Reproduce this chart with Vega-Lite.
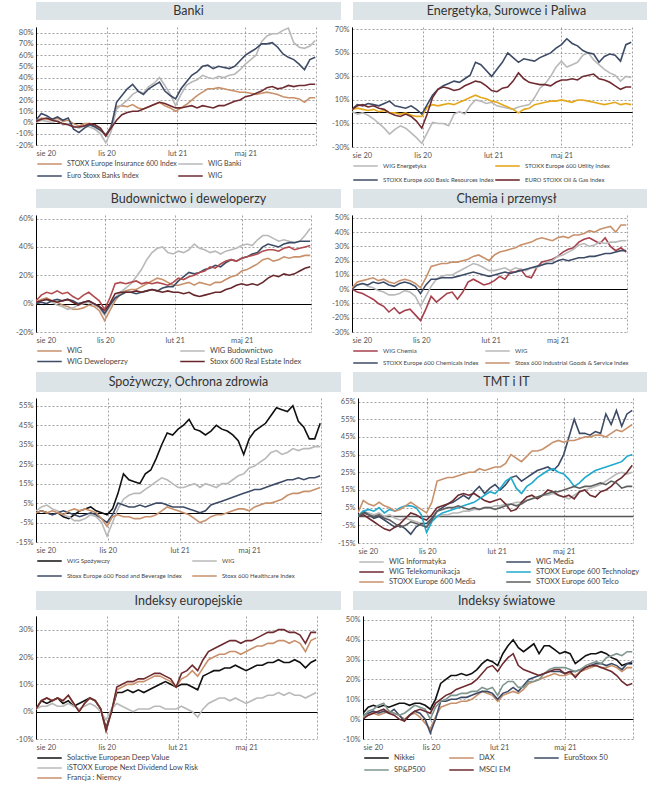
{
"$schema":"https://vega.github.io/schema/vega-lite/v6.json",
"padding":{"left":8,"top":2,"right":0,"bottom":0},
"background":"white",
"columns":1,
"align":"none",
"spacing":5,
"resolve":{"scale":{"color":"independent"},"legend":{"color":"independent"}},
"config":{"view":{"stroke":null},"font":"Lato",
"axis":{"grid":true,"gridDash":[2,2],"gridColor":"#8a8a8a","gridWidth":0.8,"ticks":false,"labelFontSize":7.5,"labelColor":"#555","labelFont":"Lato","labelOverlap":false},
"axisX":{"domain":false,"labelPadding":4},
"axisY":{"domain":true,"domainColor":"#000","domainWidth":1,"labelPadding":3,"labelOverlap":false},
"legend":{"orient":"bottom","symbolType":"stroke","symbolStrokeWidth":2.2,"symbolSize":600,"clipHeight":8,"labelFontSize":7.5,"labelColor":"#444","labelFont":"Lato","rowPadding":3,"columnPadding":10,"offset":3,"padding":0,"labelLimit":300},
"line":{"strokeWidth":1.6}},
"datasets":{"all":[
{"d":"2020-08-01","ins":1,"wb":0,"esb":2,"wig":1,"we":0,"ut":2,"br":2,"og":2,"wbud":0,"wdew":0,"re":1,"x3":2,"wch":0,"chem":0,"ind":1,"wsp":0,"fb":0,"hc":0,"wi":0,"wm":0,"wt":0,"tech":0,"med":2,"tel":0,"sol":1,"low":1,"fn":1,"x7":1,"nk":3,"dax":1,"es50":2,"sp":1,"em":0},
{"d":"2020-08-08","ins":4,"wb":2,"esb":8,"wig":3,"we":-2,"ut":3,"br":6,"og":5,"wbud":2,"wdew":1,"re":2,"x3":6,"wch":-2,"chem":3,"ind":5,"wsp":1,"fb":1,"hc":1,"wi":3,"wm":3,"wt":1,"tech":3,"med":9,"tel":2,"sol":4,"low":2,"fn":4,"x7":4,"nk":6,"dax":2,"es50":3,"sp":4,"em":2},
{"d":"2020-08-15","ins":3,"wb":1,"esb":6,"wig":4,"we":-1,"ut":2,"br":5,"og":6,"wbud":3,"wdew":0,"re":3,"x3":8,"wch":-3,"chem":4,"ind":6,"wsp":0,"fb":0,"hc":0,"wi":2,"wm":1,"wt":-1,"tech":4,"med":7,"tel":1,"sol":3,"low":2,"fn":5,"x7":5,"nk":7,"dax":3,"es50":4,"sp":5,"em":3},
{"d":"2020-08-22","ins":2,"wb":0,"esb":3,"wig":2,"we":-3,"ut":1,"br":7,"og":4,"wbud":1,"wdew":2,"re":2,"x3":7,"wch":-5,"chem":3,"ind":7,"wsp":-1,"fb":-1,"hc":1,"wi":1,"wm":-1,"wt":-3,"tech":3,"med":6,"tel":0,"sol":4,"low":3,"fn":4,"x7":4,"nk":6,"dax":2,"es50":3,"sp":7,"em":4},
{"d":"2020-08-29","ins":4,"wb":2,"esb":5,"wig":1,"we":-6,"ut":2,"br":6,"og":5,"wbud":-1,"wdew":3,"re":1,"x3":9,"wch":-7,"chem":5,"ind":8,"wsp":0,"fb":0,"hc":0,"wi":2,"wm":0,"wt":-5,"tech":5,"med":8,"tel":1,"sol":5,"low":2,"fn":5,"x7":5,"nk":7,"dax":3,"es50":4,"sp":8,"em":5},
{"d":"2020-09-05","ins":1,"wb":-2,"esb":2,"wig":-1,"we":-10,"ut":0,"br":5,"og":3,"wbud":-2,"wdew":2,"re":2,"x3":7,"wch":-10,"chem":4,"ind":6,"wsp":-2,"fb":1,"hc":-1,"wi":0,"wm":-2,"wt":-7,"tech":2,"med":6,"tel":-1,"sol":3,"low":2,"fn":4,"x7":4,"nk":6,"dax":4,"es50":3,"sp":4,"em":3},
{"d":"2020-09-12","ins":2,"wb":-1,"esb":4,"wig":-2,"we":-14,"ut":1,"br":7,"og":2,"wbud":-4,"wdew":3,"re":3,"x3":8,"wch":-12,"chem":5,"ind":7,"wsp":-3,"fb":0,"hc":1,"wi":1,"wm":-4,"wt":-8,"tech":4,"med":5,"tel":-2,"sol":4,"low":3,"fn":6,"x7":6,"nk":7,"dax":3,"es50":5,"sp":3,"em":2},
{"d":"2020-09-19","ins":-1,"wb":-3,"esb":-6,"wig":-4,"we":-19,"ut":-1,"br":9,"og":-1,"wbud":-3,"wdew":2,"re":1,"x3":5,"wch":-16,"chem":3,"ind":5,"wsp":-1,"fb":-1,"hc":2,"wi":-1,"wm":-6,"wt":-6,"tech":3,"med":3,"tel":-4,"sol":2,"low":2,"fn":3,"x7":3,"nk":8,"dax":2,"es50":2,"sp":2,"em":0},
{"d":"2020-09-26","ins":-3,"wb":-5,"esb":-9,"wig":-4,"we":-15,"ut":-1,"br":5,"og":-3,"wbud":-1,"wdew":0,"re":-1,"x3":3,"wch":-13,"chem":2,"ind":4,"wsp":1,"fb":-2,"hc":1,"wi":-2,"wm":-5,"wt":-4,"tech":5,"med":4,"tel":-6,"sol":3,"low":1,"fn":0,"x7":0,"nk":8,"dax":0,"es50":-1,"sp":3,"em":-1},
{"d":"2020-10-03","ins":-1,"wb":-3,"esb":-5,"wig":-3,"we":-12,"ut":-2,"br":4,"og":-4,"wbud":0,"wdew":1,"re":1,"x3":6,"wch":-17,"chem":4,"ind":6,"wsp":2,"fb":-1,"hc":2,"wi":-1,"wm":-7,"wt":-1,"tech":6,"med":6,"tel":-5,"sol":4,"low":2,"fn":3,"x7":3,"nk":7,"dax":2,"es50":2,"sp":5,"em":2},
{"d":"2020-10-10","ins":-1,"wb":-4,"esb":-2,"wig":-1,"we":-14,"ut":-1,"br":3,"og":-2,"wbud":1,"wdew":2,"re":2,"x3":8,"wch":-15,"chem":5,"ind":7,"wsp":3,"fb":0,"hc":1,"wi":-2,"wm":-10,"wt":2,"tech":6,"med":8,"tel":-3,"sol":5,"low":3,"fn":5,"x7":5,"nk":8,"dax":3,"es50":4,"sp":7,"em":4},
{"d":"2020-10-17","ins":-3,"wb":-6,"esb":-4,"wig":-2,"we":-18,"ut":-3,"br":5,"og":-4,"wbud":-1,"wdew":0,"re":0,"x3":5,"wch":-14,"chem":4,"ind":6,"wsp":1,"fb":-1,"hc":0,"wi":-3,"wm":-6,"wt":1,"tech":5,"med":6,"tel":-4,"sol":4,"low":2,"fn":4,"x7":4,"nk":8,"dax":1,"es50":3,"sp":6,"em":5},
{"d":"2020-10-24","ins":-6,"wb":-10,"esb":-7,"wig":-5,"we":-22,"ut":-4,"br":2,"og":-8,"wbud":-3,"wdew":-2,"re":-2,"x3":2,"wch":-18,"chem":2,"ind":4,"wsp":0,"fb":-3,"hc":-3,"wi":-4,"wm":-4,"wt":-1,"tech":1,"med":4,"tel":-5,"sol":1,"low":0,"fn":1,"x7":1,"nk":7,"dax":-2,"es50":0,"sp":5,"em":4},
{"d":"2020-10-31","ins":-12,"wb":-18,"esb":-11,"wig":-12,"we":-27,"ut":-4,"br":-2,"og":-14,"wbud":-8,"wdew":-7,"re":-5,"x3":-4,"wch":-22,"chem":-3,"ind":1,"wsp":-1,"fb":-5,"hc":-7,"wi":-6,"wm":-4,"wt":-2,"tech":-9,"med":2,"tel":-6,"sol":-6,"low":-3,"fn":-7,"x7":-7,"nk":5,"dax":-5,"es50":-7,"sp":0,"em":3},
{"d":"2020-11-07","ins":-3,"wb":-8,"esb":-4,"wig":-5,"we":-18,"ut":4,"br":6,"og":-2,"wbud":-2,"wdew":-1,"re":0,"x3":4,"wch":-14,"chem":3,"ind":8,"wsp":2,"fb":-1,"hc":-2,"wi":-2,"wm":-1,"wt":1,"tech":-3,"med":8,"tel":-2,"sol":0,"low":1,"fn":0,"x7":0,"nk":10,"dax":1,"es50":0,"sp":6,"em":8},
{"d":"2020-11-14","ins":14,"wb":12,"esb":18,"wig":2,"we":-9,"ut":6,"br":14,"og":12,"wbud":4,"wdew":4,"re":7,"x3":14,"wch":-5,"chem":7,"ind":16,"wsp":10,"fb":5,"hc":-1,"wi":0,"wm":3,"wt":5,"tech":0,"med":20,"tel":3,"sol":7,"low":3,"fn":8,"x7":9,"nk":18,"dax":6,"es50":9,"sp":9,"em":10},
{"d":"2020-11-21","ins":15,"wb":16,"esb":24,"wig":7,"we":-10,"ut":5,"br":19,"og":19,"wbud":8,"wdew":6,"re":8,"x3":15,"wch":-9,"chem":7,"ind":17,"wsp":20,"fb":4,"hc":-2,"wi":1,"wm":5,"wt":6,"tech":2,"med":21,"tel":4,"sol":7,"low":2,"fn":9,"x7":10,"nk":20,"dax":7,"es50":9,"sp":10,"em":12},
{"d":"2020-11-28","ins":14,"wb":20,"esb":30,"wig":9,"we":-10,"ut":6,"br":22,"og":21,"wbud":11,"wdew":8,"re":8,"x3":14,"wch":-6,"chem":8,"ind":18,"wsp":17,"fb":3,"hc":-2,"wi":1,"wm":7,"wt":7,"tech":3,"med":22,"tel":5,"sol":8,"low":1,"fn":10,"x7":11,"nk":22,"dax":8,"es50":10,"sp":12,"em":13},
{"d":"2020-12-05","ins":16,"wb":25,"esb":34,"wig":10,"we":-12,"ut":7,"br":24,"og":20,"wbud":14,"wdew":8,"re":8,"x3":15,"wch":-3,"chem":8,"ind":18,"wsp":16,"fb":3,"hc":-3,"wi":2,"wm":8,"wt":9,"tech":4,"med":22,"tel":5,"sol":7,"low":0,"fn":10,"x7":11,"nk":22,"dax":8,"es50":10,"sp":12,"em":15},
{"d":"2020-12-12","ins":13,"wb":28,"esb":28,"wig":10,"we":-2,"ut":6,"br":26,"og":18,"wbud":19,"wdew":7,"re":9,"x3":16,"wch":-2,"chem":8,"ind":19,"wsp":15,"fb":4,"hc":-3,"wi":2,"wm":10,"wt":12,"tech":5,"med":23,"tel":6,"sol":8,"low":1,"fn":11,"x7":12,"nk":23,"dax":9,"es50":11,"sp":13,"em":16},
{"d":"2020-12-19","ins":12,"wb":26,"esb":25,"wig":12,"we":0,"ut":8,"br":25,"og":19,"wbud":24,"wdew":8,"re":8,"x3":14,"wch":-7,"chem":9,"ind":19,"wsp":20,"fb":3,"hc":-2,"wi":3,"wm":12,"wt":13,"tech":6,"med":24,"tel":5,"sol":7,"low":1,"fn":11,"x7":12,"nk":22,"dax":9,"es50":11,"sp":13,"em":17},
{"d":"2020-12-26","ins":14,"wb":32,"esb":30,"wig":14,"we":-2,"ut":10,"br":28,"og":22,"wbud":31,"wdew":9,"re":9,"x3":15,"wch":-2,"chem":10,"ind":20,"wsp":22,"fb":4,"hc":-2,"wi":3,"wm":10,"wt":12,"tech":7,"med":25,"tel":4,"sol":8,"low":1,"fn":12,"x7":13,"nk":23,"dax":10,"es50":12,"sp":14,"em":18},
{"d":"2021-01-02","ins":16,"wb":35,"esb":33,"wig":16,"we":5,"ut":12,"br":31,"og":24,"wbud":36,"wdew":10,"re":10,"x3":14,"wch":5,"chem":11,"ind":21,"wsp":28,"fb":5,"hc":-1,"wi":4,"wm":14,"wt":13,"tech":8,"med":25,"tel":5,"sol":9,"low":2,"fn":13,"x7":14,"nk":25,"dax":12,"es50":13,"sp":14,"em":20},
{"d":"2021-01-09","ins":18,"wb":40,"esb":36,"wig":18,"we":10,"ut":14,"br":42,"og":26,"wbud":39,"wdew":9,"re":9,"x3":15,"wch":7,"chem":12,"ind":23,"wsp":35,"fb":5,"hc":1,"wi":4,"wm":17,"wt":11,"tech":10,"med":27,"tel":4,"sol":10,"low":2,"fn":13,"x7":14,"nk":28,"dax":14,"es50":14,"sp":16,"em":23},
{"d":"2021-01-16","ins":15,"wb":33,"esb":28,"wig":17,"we":9,"ut":12,"br":40,"og":25,"wbud":40,"wdew":11,"re":8,"x3":14,"wch":5,"chem":11,"ind":24,"wsp":41,"fb":4,"hc":3,"wi":5,"wm":13,"wt":9,"tech":12,"med":26,"tel":5,"sol":11,"low":1,"fn":12,"x7":13,"nk":30,"dax":13,"es50":14,"sp":15,"em":26},
{"d":"2021-01-23","ins":13,"wb":25,"esb":24,"wig":15,"we":7,"ut":11,"br":35,"og":22,"wbud":36,"wdew":12,"re":9,"x3":13,"wch":3,"chem":10,"ind":22,"wsp":40,"fb":3,"hc":2,"wi":5,"wm":16,"wt":8,"tech":14,"med":27,"tel":5,"sol":10,"low":1,"fn":11,"x7":12,"nk":29,"dax":12,"es50":13,"sp":16,"em":27},
{"d":"2021-01-30","ins":10,"wb":15,"esb":21,"wig":13,"we":8,"ut":9,"br":30,"og":18,"wbud":35,"wdew":12,"re":8,"x3":15,"wch":4,"chem":9,"ind":20,"wsp":43,"fb":3,"hc":1,"wi":6,"wm":18,"wt":9,"tech":13,"med":28,"tel":4,"sol":9,"low":1,"fn":9,"x7":9,"nk":27,"dax":9,"es50":10,"sp":12,"em":24},
{"d":"2021-02-06","ins":13,"wb":25,"esb":30,"wig":13,"we":5,"ut":8,"br":36,"og":17,"wbud":37,"wdew":16,"re":8,"x3":18,"wch":6,"chem":10,"ind":24,"wsp":45,"fb":3,"hc":0,"wi":6,"wm":15,"wt":10,"tech":16,"med":28,"tel":5,"sol":10,"low":2,"fn":12,"x7":14,"nk":33,"dax":12,"es50":13,"sp":17,"em":28},
{"d":"2021-02-13","ins":16,"wb":33,"esb":36,"wig":14,"we":4,"ut":6,"br":42,"og":20,"wbud":36,"wdew":19,"re":7,"x3":17,"wch":9,"chem":11,"ind":26,"wsp":48,"fb":2,"hc":-1,"wi":7,"wm":18,"wt":7,"tech":20,"med":30,"tel":6,"sol":10,"low":1,"fn":13,"x7":15,"nk":37,"dax":13,"es50":14,"sp":19,"em":31},
{"d":"2021-02-20","ins":20,"wb":36,"esb":42,"wig":15,"we":3,"ut":4,"br":50,"og":21,"wbud":38,"wdew":22,"re":8,"x3":19,"wch":7,"chem":12,"ind":27,"wsp":43,"fb":1,"hc":-3,"wi":7,"wm":22,"wt":3,"tech":22,"med":35,"tel":7,"sol":9,"low":0,"fn":15,"x7":17,"nk":40,"dax":14,"es50":16,"sp":19,"em":33},
{"d":"2021-02-27","ins":24,"wb":38,"esb":45,"wig":13,"we":2,"ut":2,"br":46,"og":26,"wbud":42,"wdew":21,"re":6,"x3":20,"wch":12,"chem":11,"ind":28,"wsp":42,"fb":0,"hc":-5,"wi":8,"wm":23,"wt":4,"tech":16,"med":33,"tel":6,"sol":8,"low":-2,"fn":13,"x7":15,"nk":36,"dax":13,"es50":14,"sp":16,"em":27},
{"d":"2021-03-06","ins":27,"wb":42,"esb":50,"wig":15,"we":4,"ut":-1,"br":42,"og":33,"wbud":39,"wdew":22,"re":5,"x3":22,"wch":12,"chem":12,"ind":29,"wsp":40,"fb":1,"hc":-4,"wi":8,"wm":20,"wt":8,"tech":13,"med":31,"tel":7,"sol":13,"low":1,"fn":16,"x7":19,"nk":34,"dax":15,"es50":17,"sp":16,"em":25},
{"d":"2021-03-13","ins":30,"wb":40,"esb":51,"wig":14,"we":5,"ut":2,"br":45,"og":28,"wbud":38,"wdew":24,"re":6,"x3":23,"wch":14,"chem":13,"ind":31,"wsp":42,"fb":4,"hc":-2,"wi":9,"wm":22,"wt":11,"tech":17,"med":34,"tel":9,"sol":14,"low":3,"fn":19,"x7":22,"nk":36,"dax":18,"es50":20,"sp":19,"em":24},
{"d":"2021-03-20","ins":30,"wb":39,"esb":48,"wig":13,"we":6,"ut":3,"br":44,"og":25,"wbud":36,"wdew":25,"re":7,"x3":26,"wch":9,"chem":14,"ind":32,"wsp":45,"fb":5,"hc":-1,"wi":10,"wm":24,"wt":12,"tech":19,"med":37,"tel":10,"sol":15,"low":4,"fn":20,"x7":23,"nk":38,"dax":19,"es50":21,"sp":19,"em":23},
{"d":"2021-03-27","ins":31,"wb":41,"esb":50,"wig":15,"we":12,"ut":6,"br":43,"og":24,"wbud":37,"wdew":27,"re":8,"x3":25,"wch":8,"chem":15,"ind":33,"wsp":43,"fb":6,"hc":-1,"wi":11,"wm":26,"wt":10,"tech":22,"med":37,"tel":11,"sol":15,"low":5,"fn":21,"x7":24,"nk":33,"dax":20,"es50":22,"sp":20,"em":22},
{"d":"2021-04-03","ins":30,"wb":40,"esb":49,"wig":15,"we":20,"ut":7,"br":46,"og":23,"wbud":35,"wdew":26,"re":8,"x3":28,"wch":15,"chem":16,"ind":35,"wsp":42,"fb":7,"hc":0,"wi":12,"wm":27,"wt":12,"tech":24,"med":38,"tel":12,"sol":16,"low":5,"fn":21,"x7":25,"nk":37,"dax":21,"es50":23,"sp":23,"em":23},
{"d":"2021-04-10","ins":29,"wb":42,"esb":48,"wig":17,"we":24,"ut":8,"br":48,"og":23,"wbud":37,"wdew":29,"re":10,"x3":30,"wch":19,"chem":17,"ind":36,"wsp":40,"fb":8,"hc":1,"wi":12,"wm":28,"wt":15,"tech":26,"med":40,"tel":13,"sol":16,"low":4,"fn":22,"x7":26,"nk":37,"dax":22,"es50":24,"sp":25,"em":24},
{"d":"2021-04-17","ins":28,"wb":43,"esb":50,"wig":19,"we":30,"ut":9,"br":50,"og":22,"wbud":38,"wdew":31,"re":11,"x3":31,"wch":20,"chem":18,"ind":35,"wsp":37,"fb":9,"hc":2,"wi":13,"wm":26,"wt":14,"tech":27,"med":42,"tel":14,"sol":17,"low":5,"fn":22,"x7":26,"nk":35,"dax":23,"es50":24,"sp":26,"em":25},
{"d":"2021-04-24","ins":27,"wb":47,"esb":55,"wig":20,"we":38,"ut":9,"br":54,"og":25,"wbud":39,"wdew":30,"re":13,"x3":30,"wch":21,"chem":18,"ind":34,"wsp":30,"fb":10,"hc":2,"wi":12,"wm":29,"wt":12,"tech":25,"med":43,"tel":14,"sol":16,"low":4,"fn":21,"x7":25,"nk":33,"dax":22,"es50":24,"sp":26,"em":25},
{"d":"2021-05-01","ins":27,"wb":52,"esb":60,"wig":23,"we":43,"ut":10,"br":57,"og":27,"wbud":41,"wdew":32,"re":14,"x3":32,"wch":23,"chem":20,"ind":36,"wsp":38,"fb":11,"hc":1,"wi":11,"wm":35,"wt":11,"tech":24,"med":42,"tel":15,"sol":15,"low":3,"fn":22,"x7":26,"nk":34,"dax":22,"es50":23,"sp":26,"em":23},
{"d":"2021-05-08","ins":26,"wb":56,"esb":63,"wig":24,"we":38,"ut":9,"br":62,"og":27,"wbud":42,"wdew":33,"re":13,"x3":33,"wch":26,"chem":21,"ind":37,"wsp":42,"fb":12,"hc":3,"wi":10,"wm":45,"wt":12,"tech":21,"med":43,"tel":16,"sol":16,"low":4,"fn":23,"x7":26,"nk":33,"dax":23,"es50":24,"sp":25,"em":24},
{"d":"2021-05-15","ins":25,"wb":60,"esb":66,"wig":26,"we":40,"ut":8,"br":58,"og":28,"wbud":41,"wdew":35,"re":14,"x3":34,"wch":28,"chem":20,"ind":36,"wsp":44,"fb":12,"hc":4,"wi":12,"wm":55,"wt":10,"tech":17,"med":43,"tel":17,"sol":17,"low":5,"fn":24,"x7":27,"nk":28,"dax":22,"es50":24,"sp":24,"em":21},
{"d":"2021-05-22","ins":26,"wb":72,"esb":70,"wig":28,"we":42,"ut":10,"br":56,"og":27,"wbud":45,"wdew":36,"re":13,"x3":35,"wch":29,"chem":21,"ind":38,"wsp":46,"fb":13,"hc":5,"wi":14,"wm":47,"wt":14,"tech":19,"med":44,"tel":16,"sol":17,"low":5,"fn":24,"x7":28,"nk":30,"dax":24,"es50":25,"sp":25,"em":24},
{"d":"2021-05-29","ins":27,"wb":77,"esb":70,"wig":31,"we":48,"ut":10,"br":52,"og":30,"wbud":48,"wdew":40,"re":15,"x3":37,"wch":33,"chem":22,"ind":38,"wsp":50,"fb":14,"hc":5,"wi":15,"wm":47,"wt":15,"tech":22,"med":45,"tel":17,"sol":18,"low":6,"fn":25,"x7":29,"nk":32,"dax":25,"es50":26,"sp":27,"em":26},
{"d":"2021-06-05","ins":26,"wb":79,"esb":71,"wig":32,"we":50,"ut":9,"br":50,"og":31,"wbud":48,"wdew":42,"re":18,"x3":38,"wch":35,"chem":22,"ind":39,"wsp":54,"fb":15,"hc":6,"wi":16,"wm":46,"wt":12,"tech":24,"med":45,"tel":17,"sol":18,"low":6,"fn":25,"x7":29,"nk":33,"dax":26,"es50":27,"sp":28,"em":27},
{"d":"2021-06-12","ins":25,"wb":79,"esb":67,"wig":30,"we":44,"ut":8,"br":49,"og":32,"wbud":46,"wdew":41,"re":20,"x3":38,"wch":36,"chem":23,"ind":41,"wsp":53,"fb":16,"hc":7,"wi":17,"wm":48,"wt":11,"tech":26,"med":46,"tel":18,"sol":19,"low":7,"fn":26,"x7":30,"nk":33,"dax":27,"es50":28,"sp":29,"em":27},
{"d":"2021-06-19","ins":23,"wb":82,"esb":61,"wig":31,"we":40,"ut":7,"br":42,"og":28,"wbud":44,"wdew":40,"re":19,"x3":37,"wch":34,"chem":23,"ind":40,"wsp":52,"fb":17,"hc":9,"wi":18,"wm":47,"wt":14,"tech":27,"med":46,"tel":19,"sol":18,"low":6,"fn":26,"x7":30,"nk":34,"dax":26,"es50":28,"sp":28,"em":26},
{"d":"2021-06-26","ins":22,"wb":84,"esb":58,"wig":33,"we":36,"ut":6,"br":47,"og":27,"wbud":45,"wdew":42,"re":21,"x3":39,"wch":32,"chem":24,"ind":42,"wsp":55,"fb":17,"hc":10,"wi":20,"wm":58,"wt":15,"tech":28,"med":45,"tel":18,"sol":18,"low":7,"fn":25,"x7":29,"nk":33,"dax":26,"es50":27,"sp":31,"em":25},
{"d":"2021-07-03","ins":22,"wb":71,"esb":56,"wig":32,"we":33,"ut":7,"br":49,"og":25,"wbud":44,"wdew":43,"re":20,"x3":40,"wch":36,"chem":25,"ind":43,"wsp":47,"fb":18,"hc":10,"wi":22,"wm":52,"wt":17,"tech":29,"med":47,"tel":20,"sol":19,"low":6,"fn":26,"x7":29,"nk":31,"dax":27,"es50":28,"sp":32,"em":24},
{"d":"2021-07-10","ins":21,"wb":67,"esb":52,"wig":33,"we":31,"ut":8,"br":48,"og":22,"wbud":43,"wdew":43,"re":21,"x3":38,"wch":30,"chem":25,"ind":44,"wsp":44,"fb":17,"hc":11,"wi":24,"wm":60,"wt":20,"tech":30,"med":49,"tel":19,"sol":18,"low":6,"fn":25,"x7":28,"nk":30,"dax":26,"es50":27,"sp":33,"em":22},
{"d":"2021-07-17","ins":18,"wb":66,"esb":47,"wig":33,"we":26,"ut":6,"br":43,"og":19,"wbud":44,"wdew":44,"re":23,"x3":39,"wch":27,"chem":26,"ind":40,"wsp":38,"fb":18,"hc":11,"wi":25,"wm":51,"wt":22,"tech":31,"med":48,"tel":16,"sol":16,"low":5,"fn":22,"x7":25,"nk":27,"dax":24,"es50":25,"sp":32,"em":19},
{"d":"2021-07-24","ins":22,"wb":68,"esb":56,"wig":34,"we":30,"ut":7,"br":57,"og":21,"wbud":48,"wdew":44,"re":25,"x3":40,"wch":29,"chem":27,"ind":45,"wsp":38,"fb":18,"hc":12,"wi":24,"wm":58,"wt":25,"tech":34,"med":50,"tel":17,"sol":18,"low":6,"fn":26,"x7":29,"nk":28,"dax":26,"es50":28,"sp":34,"em":17},
{"d":"2021-07-31","ins":22,"wb":73,"esb":58,"wig":34,"we":29,"ut":6,"br":59,"og":21,"wbud":53,"wdew":44,"re":26,"x3":41,"wch":26,"chem":27,"ind":45,"wsp":46,"fb":19,"hc":13,"wi":25,"wm":60,"wt":29,"tech":35,"med":52,"tel":17,"sol":19,"low":7,"fn":27,"x7":29,"nk":28,"dax":26,"es50":29,"sp":34,"em":18}
]},
"concat":[
{"hconcat":[
 {"width":305,"height":18,"view":{"fill":"#dde4e8","stroke":null},"data":{"values":[{"t":"Banki"}]},"mark":{"type":"text","fontSize":12.5,"color":"#333","font":"Lato"},"encoding":{"text":{"field":"t"}}},
 {"width":307,"height":18,"view":{"fill":"#dde4e8","stroke":null},"data":{"values":[{"t":"Energetyka, Surowce i Paliwa"}]},"mark":{"type":"text","fontSize":12.5,"color":"#333","font":"Lato"},"encoding":{"text":{"field":"t"}}}
],"spacing":12},
{"hconcat":[
 {"width":280,"height":118,"data":{"name":"all"},"transform":[{"fold":["ins","wb","esb","wig"],"as":["s","v"]}],
  "mark":{"type":"line","clip":true},"encoding":{
    "x":{"field":"d","type":"temporal","scale":{"domain":[{"year":2020,"month":8,"date":1},{"year":2021,"month":8,"date":1}]},"axis":{"title":null,"values":[{"year":2020,"month":8,"date":1},{"year":2020,"month":11,"date":1},{"year":2021,"month":2,"date":1},{"year":2021,"month":5,"date":1},{"year":2021,"month":8,"date":1}],"labelExpr":"month(datum.value)==7&&year(datum.value)==2020?'sie 20':month(datum.value)==10?'lis 20':month(datum.value)==1?'lut 21':month(datum.value)==4?'maj 21':''"}},
    "y":{"field":"v","type":"quantitative","scale":{"domain":[-20,85]},"axis":{"title":null,"labelOverlap":false,"values":[-20,-10,0,10,20,30,40,50,60,70,80],"labelExpr":"datum.value+'%'","minExtent":24,"maxExtent":24,"gridColor":{"condition":{"test":"datum.value===0","value":"#000"},"value":"#8a8a8a"},"gridDash":{"condition":{"test":"datum.value===0","value":[]},"value":[2,2]},"gridWidth":{"condition":{"test":"datum.value===0","value":1.2},"value":0.8}}},
    "color":{"field":"s","type":"nominal","scale":{"domain":["ins","wb","esb","wig"],"range":["#c8916b","#b9b9b9","#3d4b66","#6e2b30"]},"legend":{"title":null,"columns":2,"columnPadding":0,"labelFontSize":7,"rowPadding":4,"labelExpr":"{'ins':'STOXX Europe Insurance 600 Index','wb':'WIG Banki','esb':'Euro Stoxx Banks Index','wig':'WIG'}[datum.label]"}}}},
 {"width":280,"height":120,"data":{"name":"all"},"transform":[{"fold":["we","ut","br","og"],"as":["s","v"]}],
  "mark":{"type":"line","clip":true},"encoding":{
    "x":{"field":"d","type":"temporal","scale":{"domain":[{"year":2020,"month":8,"date":1},{"year":2021,"month":8,"date":1}]},"axis":{"title":null,"values":[{"year":2020,"month":8,"date":1},{"year":2020,"month":11,"date":1},{"year":2021,"month":2,"date":1},{"year":2021,"month":5,"date":1},{"year":2021,"month":8,"date":1}],"labelExpr":"month(datum.value)==7&&year(datum.value)==2020?'sie 20':month(datum.value)==10?'lis 20':month(datum.value)==1?'lut 21':month(datum.value)==4?'maj 21':''"}},
    "y":{"field":"v","type":"quantitative","scale":{"domain":[-30,72]},"axis":{"title":null,"labelOverlap":false,"values":[-30,-10,0,10,30,50,70],"labelExpr":"datum.value===0?'':datum.value+'%'","minExtent":24,"maxExtent":24,"gridColor":{"condition":{"test":"datum.value===0","value":"#000"},"value":"#8a8a8a"},"gridDash":{"condition":{"test":"datum.value===0","value":[]},"value":[2,2]},"gridWidth":{"condition":{"test":"datum.value===0","value":1.2},"value":0.8}}},
    "color":{"field":"s","type":"nominal","scale":{"domain":["we","ut","br","og"],"range":["#b9b9b9","#e5a81c","#3d4b66","#6e2b30"]},"legend":{"title":null,"columns":2,"columnPadding":-24,"labelFontSize":6,"rowPadding":6,"labelExpr":"{'we':'WIG Energetyka','ut':'STOXX Europe 600 Utility Index','br':'STOXX Europe 600 Basic Resources Index','og':'EURO STOXX Oil & Gas Index'}[datum.label]"}}}}
],"spacing":12,"resolve":{"scale":{"color":"independent"}}},
{"hconcat":[
 {"width":305,"height":19,"view":{"fill":"#dde4e8","stroke":null},"data":{"values":[{"t":"Budownictwo i deweloperzy"}]},"mark":{"type":"text","fontSize":12.5,"color":"#333","font":"Lato"},"encoding":{"text":{"field":"t"}}},
 {"width":307,"height":19,"view":{"fill":"#dde4e8","stroke":null},"data":{"values":[{"t":"Chemia i przemysł"}]},"mark":{"type":"text","fontSize":12.5,"color":"#333","font":"Lato"},"encoding":{"text":{"field":"t"}}}
],"spacing":12},
{"hconcat":[
 {"width":275,"height":117,"data":{"name":"all"},"transform":[{"fold":["wig","wbud","wdew","re","x3"],"as":["s","v"]}],
  "mark":{"type":"line","clip":true},"encoding":{
    "x":{"field":"d","type":"temporal","scale":{"domain":[{"year":2020,"month":8,"date":1},{"year":2021,"month":8,"date":1}]},"axis":{"title":null,"values":[{"year":2020,"month":8,"date":1},{"year":2020,"month":11,"date":1},{"year":2021,"month":2,"date":1},{"year":2021,"month":5,"date":1},{"year":2021,"month":8,"date":1}],"labelExpr":"month(datum.value)==7&&year(datum.value)==2020?'sie 20':month(datum.value)==10?'lis 20':month(datum.value)==1?'lut 21':month(datum.value)==4?'maj 21':''"}},
    "y":{"field":"v","type":"quantitative","scale":{"domain":[-20,62.5]},"axis":{"title":null,"labelOverlap":false,"values":[-20,0,20,40,60],"labelExpr":"datum.value+'%'","minExtent":28,"maxExtent":28,"gridColor":{"condition":{"test":"datum.value===0","value":"#000"},"value":"#8a8a8a"},"gridDash":{"condition":{"test":"datum.value===0","value":[]},"value":[2,2]},"gridWidth":{"condition":{"test":"datum.value===0","value":1.2},"value":0.8}}},
    "color":{"field":"s","type":"nominal","scale":{"domain":["wig","wbud","wdew","re","x3"],"range":["#c8916b","#b9b9b9","#3d4b66","#66262a","#b24b4e"]},"legend":{"title":null,"columns":2,"columnPadding":51,"rowPadding":2.5,"values":["wig","wbud","wdew","re"],"labelExpr":"{'wig':'WIG','wbud':'WIG Budownictwo','wdew':'WIG Deweloperzy','re':'Stoxx 600 Real Estate Index'}[datum.label]"}}}},
 {"width":275,"height":117,"data":{"name":"all"},"transform":[{"fold":["wch","wig","chem","ind"],"as":["s","v"]}],
  "mark":{"type":"line","clip":true},"encoding":{
    "x":{"field":"d","type":"temporal","scale":{"domain":[{"year":2020,"month":8,"date":1},{"year":2021,"month":8,"date":1}]},"axis":{"title":null,"values":[{"year":2020,"month":8,"date":1},{"year":2020,"month":11,"date":1},{"year":2021,"month":2,"date":1},{"year":2021,"month":5,"date":1},{"year":2021,"month":8,"date":1}],"labelExpr":"month(datum.value)==7&&year(datum.value)==2020?'sie 20':month(datum.value)==10?'lis 20':month(datum.value)==1?'lut 21':month(datum.value)==4?'maj 21':''"}},
    "y":{"field":"v","type":"quantitative","scale":{"domain":[-30,52]},"axis":{"title":null,"labelOverlap":false,"values":[-30,-20,-10,0,10,20,30,40,50],"labelExpr":"datum.value+'%'","minExtent":29,"maxExtent":29,"gridColor":{"condition":{"test":"datum.value===0","value":"#000"},"value":"#8a8a8a"},"gridDash":{"condition":{"test":"datum.value===0","value":[]},"value":[2,2]},"gridWidth":{"condition":{"test":"datum.value===0","value":1.2},"value":0.8}}},
    "color":{"field":"s","type":"nominal","scale":{"domain":["wch","wig","chem","ind"],"range":["#a63f4b","#b9b9b9","#3d4b66","#c8916b"]},"legend":{"title":null,"columns":2,"columnPadding":5,"labelFontSize":6,"rowPadding":4,"labelExpr":"{'wch':'WIG Chemia','wig':'WIG','chem':'STOXX Europe 600 Chemicals Index','ind':'Stoxx 600 Industrial Goods & Service Index'}[datum.label]"}}}}
],"spacing":12,"resolve":{"scale":{"color":"independent"}}},
{"hconcat":[
 {"width":305,"height":20,"view":{"fill":"#dde4e8","stroke":null},"data":{"values":[{"t":"Spożywczy, Ochrona zdrowia"}]},"mark":{"type":"text","fontSize":12.5,"color":"#333","font":"Lato"},"encoding":{"text":{"field":"t"}}},
 {"width":307,"height":20,"view":{"fill":"#dde4e8","stroke":null},"data":{"values":[{"t":"TMT i IT"}]},"mark":{"type":"text","fontSize":12.5,"color":"#333","font":"Lato"},"encoding":{"text":{"field":"t"}}}
],"spacing":12},
{"hconcat":[
 {"width":285,"height":144,"data":{"name":"all"},"transform":[{"fold":["wsp","wig","fb","hc"],"as":["s","v"]}],
  "mark":{"type":"line","clip":true},"encoding":{
    "x":{"field":"d","type":"temporal","scale":{"domain":[{"year":2020,"month":8,"date":1},{"year":2021,"month":8,"date":1}]},"axis":{"title":null,"values":[{"year":2020,"month":8,"date":1},{"year":2020,"month":11,"date":1},{"year":2021,"month":2,"date":1},{"year":2021,"month":5,"date":1},{"year":2021,"month":8,"date":1}],"labelExpr":"month(datum.value)==7&&year(datum.value)==2020?'sie 20':month(datum.value)==10?'lis 20':month(datum.value)==1?'lut 21':month(datum.value)==4?'maj 21':''"}},
    "y":{"field":"v","type":"quantitative","scale":{"domain":[-15,59]},"axis":{"title":null,"labelOverlap":false,"values":[-15,-5,0,5,15,25,35,45,55],"labelExpr":"datum.value===0?'':datum.value+'%'","minExtent":24,"maxExtent":24,"gridColor":{"condition":{"test":"datum.value===0","value":"#000"},"value":"#8a8a8a"},"gridDash":{"condition":{"test":"datum.value===0","value":[]},"value":[2,2]},"gridWidth":{"condition":{"test":"datum.value===0","value":1.2},"value":0.8}}},
    "color":{"field":"s","type":"nominal","scale":{"domain":["wsp","wig","fb","hc"],"range":["#111111","#b9b9b9","#3d4b66","#c8916b"]},"legend":{"title":null,"columns":2,"columnPadding":9,"labelFontSize":6,"rowPadding":7,"labelExpr":"{'wsp':'WIG Spożywczy','wig':'WIG','fb':'Stoxx Europe 600 Food and Beverage Index','hc':'Stoxx 600 Healthcare Index'}[datum.label]"}}}},
 {"width":275,"height":145,"data":{"name":"all"},"transform":[{"fold":["wi","wm","wt","tech","med","tel"],"as":["s","v"]}],
  "mark":{"type":"line","clip":true},"encoding":{
    "x":{"field":"d","type":"temporal","scale":{"domain":[{"year":2020,"month":8,"date":1},{"year":2021,"month":8,"date":1}]},"axis":{"title":null,"values":[{"year":2020,"month":8,"date":1},{"year":2020,"month":11,"date":1},{"year":2021,"month":2,"date":1},{"year":2021,"month":5,"date":1},{"year":2021,"month":8,"date":1}],"labelExpr":"month(datum.value)==7&&year(datum.value)==2020?'sie 20':month(datum.value)==10?'lis 20':month(datum.value)==1?'lut 21':month(datum.value)==4?'maj 21':''"}},
    "y":{"field":"v","type":"quantitative","scale":{"domain":[-15,67]},"axis":{"title":null,"labelOverlap":false,"values":[-15,-5,0,5,15,25,35,45,55,65],"labelExpr":"datum.value===0?'':datum.value+'%'","minExtent":25,"maxExtent":25,"gridColor":{"condition":{"test":"datum.value===0","value":"#555"},"value":"#8a8a8a"},"gridDash":{"condition":{"test":"datum.value===0","value":[]},"value":[2,2]},"gridWidth":{"condition":{"test":"datum.value===0","value":1.6},"value":0.8}}},
    "color":{"field":"s","type":"nominal","scale":{"domain":["wi","wm","wt","tech","med","tel"],"range":["#b9b9b9","#3d4b66","#6e2b30","#20aacd","#c8916b","#5e5e5e"]},"legend":{"title":null,"columns":2,"columnPadding":29,"rowPadding":2,"labelExpr":"{'wi':'WIG Informatyka','wm':'WIG Media','wt':'WIG Telekomunikacja','tech':'STOXX Europe 600 Technology','med':'STOXX Europe 600 Media','tel':'STOXX Europe 600 Telco'}[datum.label]"}}}}
],"spacing":12,"resolve":{"scale":{"color":"independent"}}},
{"hconcat":[
 {"width":305,"height":19,"view":{"fill":"#dde4e8","stroke":null},"data":{"values":[{"t":"Indeksy europejskie"}]},"mark":{"type":"text","fontSize":12.5,"color":"#333","font":"Lato"},"encoding":{"text":{"field":"t"}}},
 {"width":307,"height":19,"view":{"fill":"#dde4e8","stroke":null},"data":{"values":[{"t":"Indeksy światowe"}]},"mark":{"type":"text","fontSize":12.5,"color":"#333","font":"Lato"},"encoding":{"text":{"field":"t"}}}
],"spacing":12},
{"hconcat":[
 {"width":281,"height":123,"data":{"name":"all"},"transform":[{"fold":["sol","low","fn","x7"],"as":["s","v"]}],
  "mark":{"type":"line","clip":true},"encoding":{
    "x":{"field":"d","type":"temporal","scale":{"domain":[{"year":2020,"month":8,"date":1},{"year":2021,"month":8,"date":1}]},"axis":{"title":null,"values":[{"year":2020,"month":8,"date":1},{"year":2020,"month":11,"date":1},{"year":2021,"month":2,"date":1},{"year":2021,"month":5,"date":1},{"year":2021,"month":8,"date":1}],"labelExpr":"month(datum.value)==7&&year(datum.value)==2020?'sie 20':month(datum.value)==10?'lis 20':month(datum.value)==1?'lut 21':month(datum.value)==4?'maj 21':''"}},
    "y":{"field":"v","type":"quantitative","scale":{"domain":[-10,35]},"axis":{"title":null,"labelOverlap":false,"values":[-10,0,10,20,30],"labelExpr":"datum.value+'%'","minExtent":24,"maxExtent":24,"gridColor":{"condition":{"test":"datum.value===0","value":"#000"},"value":"#8a8a8a"},"gridDash":{"condition":{"test":"datum.value===0","value":[]},"value":[2,2]},"gridWidth":{"condition":{"test":"datum.value===0","value":1.2},"value":0.8}}},
    "color":{"field":"s","type":"nominal","scale":{"domain":["sol","low","fn","x7"],"range":["#111111","#b9b9b9","#c8916b","#6e2b30"]},"legend":{"title":null,"columns":1,"rowPadding":2,"values":["sol","low","fn"],"labelExpr":"{'sol':'Solactive European Deep Value','low':'iSTOXX Europe Next Dividend Low Risk','fn':'Francja : Niemcy'}[datum.label]"}}}},
 {"width":270,"height":123,"data":{"name":"all"},"transform":[{"fold":["nk","dax","es50","sp","em"],"as":["s","v"]}],
  "mark":{"type":"line","clip":true},"encoding":{
    "x":{"field":"d","type":"temporal","scale":{"domain":[{"year":2020,"month":8,"date":1},{"year":2021,"month":8,"date":1}]},"axis":{"title":null,"values":[{"year":2020,"month":8,"date":1},{"year":2020,"month":11,"date":1},{"year":2021,"month":2,"date":1},{"year":2021,"month":5,"date":1},{"year":2021,"month":8,"date":1}],"labelExpr":"month(datum.value)==7&&year(datum.value)==2020?'sie 20':month(datum.value)==10?'lis 20':month(datum.value)==1?'lut 21':month(datum.value)==4?'maj 21':''"}},
    "y":{"field":"v","type":"quantitative","scale":{"domain":[-10,52]},"axis":{"title":null,"labelOverlap":false,"values":[-10,0,10,20,30,40,50],"labelExpr":"datum.value+'%'","minExtent":34,"maxExtent":34,"gridColor":{"condition":{"test":"datum.value===0","value":"#000"},"value":"#8a8a8a"},"gridDash":{"condition":{"test":"datum.value===0","value":[]},"value":[2,2]},"gridWidth":{"condition":{"test":"datum.value===0","value":1.2},"value":0.8}}},
    "color":{"field":"s","type":"nominal","scale":{"domain":["nk","dax","es50","sp","em"],"range":["#111111","#c8916b","#3d4b66","#7f968f","#6e2b30"]},"legend":{"title":null,"columns":3,"columnPadding":22,"rowPadding":4,"labelExpr":"{'nk':'Nikkei','dax':'DAX','es50':'EuroStoxx 50','sp':'SP&P500','em':'MSCI EM'}[datum.label]"}}}}
],"spacing":12,"resolve":{"scale":{"color":"independent"}}}
]
}
